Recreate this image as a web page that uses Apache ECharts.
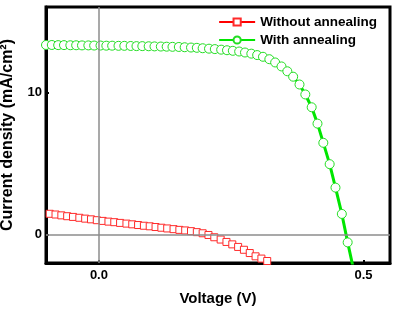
<!DOCTYPE html>
<html>
<head>
<meta charset="utf-8">
<script src="https://cdn.jsdelivr.net/npm/echarts@6/dist/echarts.min.js"></script>
<style>
  html, body { margin: 0; padding: 0; background: #fff; }
  #chart { width: 399px; height: 312px; }
</style>
</head>
<body>
<div id="chart"></div>
<script>
// voltage (V) / current density (mA/cm2)
const withoutV = [-0.093, -0.082, -0.071, -0.060, -0.049, -0.037, -0.026, -0.015, -0.004, 0.007,
  0.018, 0.029, 0.040, 0.052, 0.063, 0.074, 0.085, 0.096, 0.107, 0.118,
  0.129, 0.141, 0.152, 0.163, 0.174, 0.185, 0.196, 0.207, 0.218, 0.230,
  0.241, 0.252, 0.263, 0.274, 0.285, 0.296, 0.307, 0.318]
const withoutJ = [1.46, 1.41, 1.35, 1.29, 1.24, 1.18, 1.12, 1.07, 1.01, 0.96,
  0.91, 0.87, 0.82, 0.77, 0.72, 0.67, 0.62, 0.58, 0.53, 0.48,
  0.43, 0.38, 0.33, 0.29, 0.24, 0.17, 0.09, -0.03, -0.19, -0.35,
  -0.52, -0.69, -0.87, -1.07, -1.30, -1.53, -1.69, -1.86]

const withV = [-0.100, -0.089, -0.077, -0.066, -0.054, -0.043, -0.032, -0.020, -0.009, 0.003,
  0.014, 0.025, 0.037, 0.048, 0.060, 0.071, 0.082, 0.094, 0.105, 0.117,
  0.128, 0.139, 0.151, 0.162, 0.174, 0.185, 0.196, 0.208, 0.219, 0.231,
  0.242, 0.253, 0.265, 0.276, 0.288, 0.299, 0.310, 0.322, 0.333, 0.345,
  0.356, 0.367, 0.379, 0.390, 0.402, 0.413, 0.424, 0.436, 0.447, 0.459,
  0.470, 0.482]
const withJ = [13.33, 13.33, 13.32, 13.32, 13.31, 13.31, 13.30, 13.30, 13.29, 13.29,
  13.28, 13.28, 13.27, 13.27, 13.26, 13.25, 13.25, 13.24, 13.23, 13.22,
  13.21, 13.20, 13.19, 13.17, 13.15, 13.13, 13.10, 13.07, 13.04, 13.00,
  12.96, 12.92, 12.87, 12.80, 12.72, 12.62, 12.50, 12.33, 12.10, 11.82,
  11.48, 11.10, 10.55, 9.85, 8.95, 7.80, 6.45, 4.95, 3.30, 1.45,
  -0.55, -2.60]

const xTicks = [0.0, 0.5]
const yTicks = [0, 10]
const seriesNames = ['Without annealing', 'With annealing']

const pairs = (xs, ys) => xs.map((x, i) => [x, ys[i]])

const chart = echarts.init(document.getElementById('chart'))
const font = 'Liberation Sans, Arial, sans-serif'

chart.setOption({
  animation: false,
  grid: {
    left: 46,
    top: 7,
    right: 9,
    bottom: 49,
    outerBoundsMode: 'none',
    containLabel: false,
    show: true,
    borderColor: '#000',
    borderWidth: 3,
    backgroundColor: 'transparent'
  },
  legend: {
    orient: 'vertical',
    right: 17,
    top: 10,
    itemWidth: 36,
    itemHeight: 9,
    itemGap: 4,
    textStyle: { fontFamily: font, fontWeight: 'bold', fontSize: 13.5, color: '#000' },
    data: seriesNames
  },
  xAxis: {
    type: 'value',
    min: -0.1,
    max: 0.55,
    name: 'Voltage (V)',
    nameLocation: 'middle',
    nameGap: 28,
    nameTextStyle: { fontFamily: font, fontWeight: 'bold', fontSize: 15, color: '#000' },
    axisLine: { onZero: false, lineStyle: { color: '#000', width: 3 } },
    axisTick: { inside: true, length: 3, customValues: xTicks, lineStyle: { color: '#000', width: 2 } },
    axisLabel: {
      customValues: xTicks,
      margin: 6,
      fontFamily: font, fontWeight: 'bold', fontSize: 13, color: '#000',
      formatter: v => v.toFixed(1)
    },
    splitLine: { show: false }
  },
  yAxis: {
    type: 'value',
    min: -2,
    max: 16,
    name: 'Current density (mA/cm²)',
    nameLocation: 'middle',
    nameGap: 30,
    nameTextStyle: { fontFamily: font, fontWeight: 'bold', fontSize: 16, color: '#000' },
    axisLine: { onZero: false, lineStyle: { color: '#000', width: 3 } },
    axisTick: { inside: true, length: 3, customValues: yTicks, lineStyle: { color: '#000', width: 2 } },
    axisLabel: {
      customValues: yTicks,
      margin: 4,
      fontFamily: font, fontWeight: 'bold', fontSize: 13, color: '#000'
    },
    splitLine: { show: false }
  },
  series: [
    {
      name: seriesNames[0],
      type: 'line',
      data: pairs(withoutV, withoutJ),
      symbol: 'rect',
      symbolSize: 7,
      color: '#ff0000',
      lineStyle: { color: '#ff0000', width: 2 },
      itemStyle: { color: '#fff', borderColor: '#ff2a2a', borderWidth: 1 },
      clip: true,
      markLine: {
        silent: true,
        symbol: 'none',
        label: { show: false },
        lineStyle: { color: '#8c8c8c', width: 1.5, type: 'solid' },
        data: [{ xAxis: 0 }, { yAxis: 0 }]
      }
    },
    {
      name: seriesNames[1],
      type: 'line',
      data: pairs(withV, withJ),
      symbol: 'circle',
      symbolSize: 9,
      color: '#00e600',
      lineStyle: { color: '#00e600', width: 3 },
      itemStyle: { color: '#fff', borderColor: '#22dd22', borderWidth: 1 },
      clip: true
    }
  ]
})
</script>
</body>
</html>
